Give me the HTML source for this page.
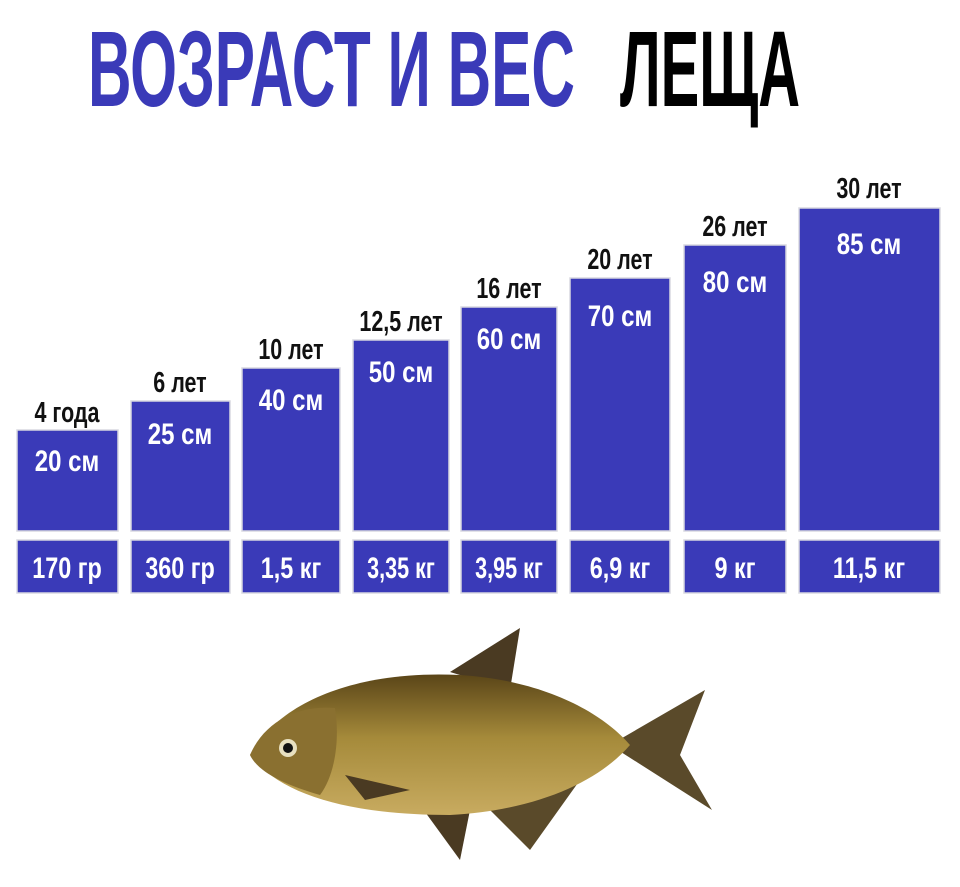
<!DOCTYPE html>
<html><head><meta charset="utf-8"><style>
html,body{margin:0;padding:0;background:#fff;width:960px;height:887px;overflow:hidden}
svg{display:block}
text{font-family:"Liberation Sans",sans-serif;font-weight:bold}
</style></head><body>
<svg width="960" height="887" viewBox="0 0 960 887" xmlns="http://www.w3.org/2000/svg">
<rect width="960" height="887" fill="#fff"/>
<text x="88" y="106" font-size="108" fill="#3a3ab8" textLength="487" lengthAdjust="spacingAndGlyphs">ВОЗРАСТ И ВЕС</text>
<text x="620" y="106" font-size="108" fill="#000" textLength="180" lengthAdjust="spacingAndGlyphs">ЛЕЩА</text>
<g fill="#3a3ab8" stroke="#d8d8e0" stroke-width="1.5">
<rect x="17" y="430" width="101" height="101"/><rect x="17" y="540" width="101" height="53"/>
<rect x="131" y="401" width="99" height="130"/><rect x="131" y="540" width="99" height="53"/>
<rect x="242" y="368" width="98" height="163"/><rect x="242" y="540" width="98" height="53"/>
<rect x="353" y="340" width="96" height="191"/><rect x="353" y="540" width="96" height="53"/>
<rect x="461" y="307" width="96" height="224"/><rect x="461" y="540" width="96" height="53"/>
<rect x="570" y="278" width="100" height="253"/><rect x="570" y="540" width="100" height="53"/>
<rect x="684" y="245" width="102" height="286"/><rect x="684" y="540" width="102" height="53"/>
<rect x="799" y="208" width="141" height="323"/><rect x="799" y="540" width="141" height="53"/>
</g>
<g font-size="29" text-anchor="middle" fill="#111">
<text transform="translate(67,422) scale(0.74,1)">4 года</text>
<text transform="translate(180,392) scale(0.74,1)">6 лет</text>
<text transform="translate(291,359) scale(0.74,1)">10 лет</text>
<text transform="translate(401,331) scale(0.74,1)">12,5 лет</text>
<text transform="translate(509,298) scale(0.74,1)">16 лет</text>
<text transform="translate(620,269) scale(0.74,1)">20 лет</text>
<text transform="translate(735,236) scale(0.74,1)">26 лет</text>
<text transform="translate(869,198) scale(0.74,1)">30 лет</text>
</g>
<g font-size="30" text-anchor="middle" fill="#fff">
<text transform="translate(67,471) scale(0.8,1)">20 см</text>
<text transform="translate(180,444) scale(0.8,1)">25 см</text>
<text transform="translate(291,410) scale(0.8,1)">40 см</text>
<text transform="translate(401,382) scale(0.8,1)">50 см</text>
<text transform="translate(509,349) scale(0.8,1)">60 см</text>
<text transform="translate(620,326) scale(0.8,1)">70 см</text>
<text transform="translate(735,292) scale(0.8,1)">80 см</text>
<text transform="translate(869,254) scale(0.8,1)">85 см</text>
<text transform="translate(67,578) scale(0.78,1)">170 гр</text>
<text transform="translate(180,578) scale(0.78,1)">360 гр</text>
<text transform="translate(291,578) scale(0.78,1)">1,5 кг</text>
<text transform="translate(401,578) scale(0.72,1)">3,35 кг</text>
<text transform="translate(509,578) scale(0.72,1)">3,95 кг</text>
<text transform="translate(620,578) scale(0.78,1)">6,9 кг</text>
<text transform="translate(735,578) scale(0.78,1)">9 кг</text>
<text transform="translate(869,578) scale(0.78,1)">11,5 кг</text>
</g>
<defs><linearGradient id="fb" x1="0" y1="0" x2="0" y2="1">
<stop offset="0" stop-color="#5a4518"/><stop offset="0.45" stop-color="#a58a3a"/><stop offset="1" stop-color="#c8ab60"/></linearGradient></defs>
<path d="M450 672 L520 628 L510 690 Z" fill="#4a3a22"/>
<path d="M610 745 L705 690 L680 755 L712 810 Z" fill="#5a4a2a"/>
<path d="M480 800 L580 780 L530 850 Z" fill="#5a4a2a"/>
<path d="M420 805 L470 810 L460 860 Z" fill="#4a3a22"/>
<path d="M250 755 C280 700 360 670 460 675 C540 680 600 710 630 745 C600 780 540 810 450 815 C350 815 280 795 250 755 Z" fill="url(#fb)"/>
<path d="M250 755 C265 720 300 705 335 708 C340 740 335 775 320 795 C285 785 258 772 250 755 Z" fill="#8a7030"/>
<circle cx="288" cy="748" r="9" fill="#e8e0c0"/><circle cx="288" cy="748" r="5" fill="#111"/>
<path d="M345 775 L410 790 L365 800 Z" fill="#4a3a22"/>
</svg>
</body></html>
